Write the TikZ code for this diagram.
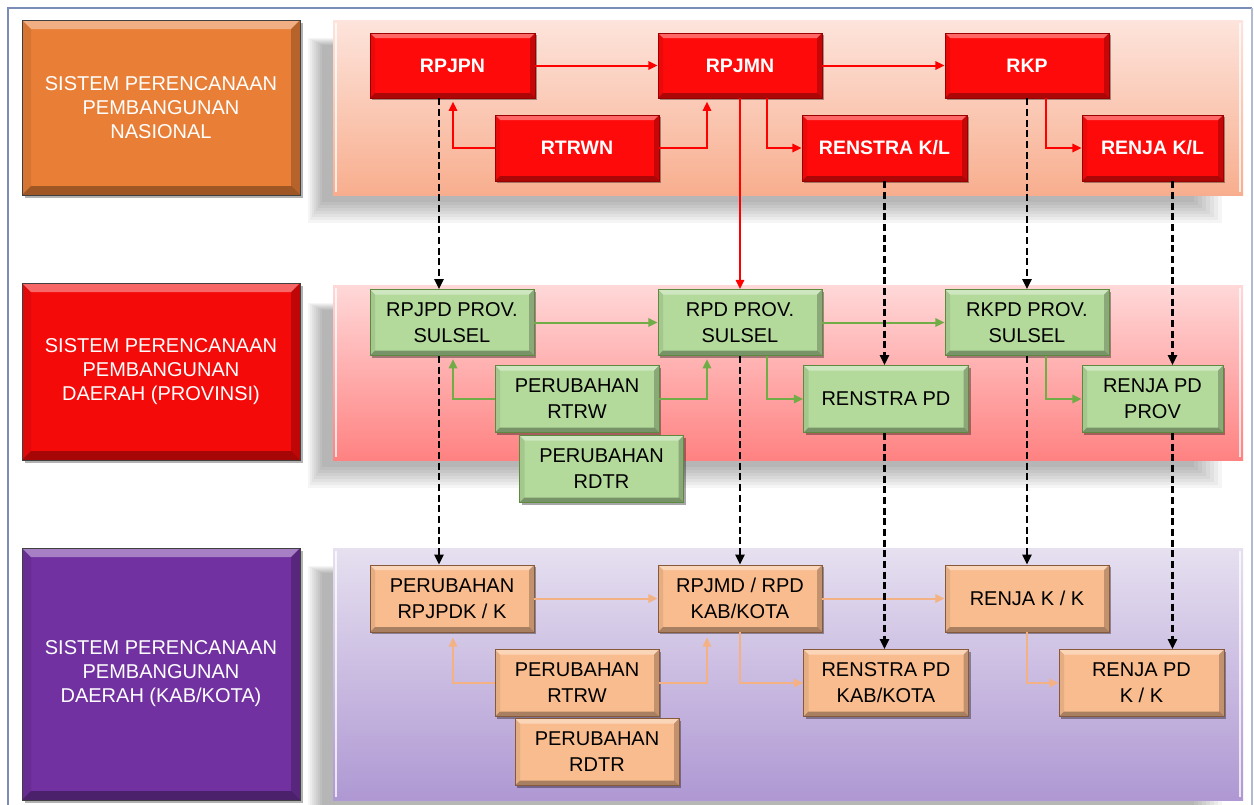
\documentclass[tikz,border=0pt]{standalone}
\usepackage{fontspec}
\setmainfont{Liberation Sans}
\usetikzlibrary{arrows.meta,shadows}
\definecolor{nred}{HTML}{FF0A0A}
\definecolor{nredD}{HTML}{9A0000}
\definecolor{ngreen}{HTML}{B3D99B}
\definecolor{ngreenD}{HTML}{5E8A3F}
\definecolor{norange}{HTML}{F9BC8E}
\definecolor{norangeD}{HTML}{86593A}
\definecolor{lorange}{HTML}{E97F37}
\definecolor{lred}{HTML}{F50A0A}
\definecolor{lpurple}{HTML}{7131A0}
\definecolor{agreen}{HTML}{70AD47}
\definecolor{aorange}{HTML}{F4B183}
\definecolor{aframe}{HTML}{7A8DB8}
\tikzset{
  bevel/.style={path picture={
    \coordinate (bA) at (path picture bounding box.north west);
    \coordinate (bB) at (path picture bounding box.north east);
    \coordinate (bC) at (path picture bounding box.south east);
    \coordinate (bD) at (path picture bounding box.south west);
    \fill[white,opacity=.38] (bA) -- (bB) -- ([shift={(-#1,-#1)}]bB) -- ([shift={(#1,-#1)}]bA) -- cycle;
    \fill[black,opacity=.08] (bA) -- ([shift={(#1,-#1)}]bA) -- ([shift={(#1,#1)}]bD) -- (bD) -- cycle;
    \fill[black,opacity=.22] (bB) -- (bC) -- ([shift={(-#1,#1)}]bC) -- ([shift={(-#1,-#1)}]bB) -- cycle;
    \fill[black,opacity=.32] (bD) -- (bC) -- ([shift={(-#1,#1)}]bC) -- ([shift={(#1,#1)}]bD) -- cycle;
  }},
  bevel/.default=3pt,
  bw/.style={minimum width={#1*0.6pt}},
  bh/.style={minimum height={#1*0.6pt}},
  nbox/.style={rectangle, inner sep=0pt, align=center, line width=.5pt,
    bevel, drop shadow={shadow xshift=1.2pt, shadow yshift=-1.4pt, opacity=.35, fill=black},
    font=\fontsize{12}{15.6}\selectfont},
  redn/.style={nbox, fill=nred, draw=nredD, text=white, font=\bfseries\fontsize{11.7}{14}\selectfont},
  greenn/.style={nbox, fill=ngreen, draw=ngreenD, text=black},
  orangen/.style={nbox, fill=norange, draw=norangeD, text=black},
  lbox/.style={rectangle, inner sep=0pt, align=center, bw=278, draw=black!75, line width=.5pt,
    bevel=5.4pt, drop shadow={shadow xshift=1.5pt, shadow yshift=-1.5pt, opacity=.3, fill=black},
    text=white, font=\fontsize{12}{14.4}\selectfont},
  redarr/.style={draw=red, line width=1.2pt, -{Triangle[length=5.5pt,width=5pt]}},
  greenarr/.style={draw=agreen, line width=1.2pt, -{Triangle[length=5.5pt,width=5pt]}},
  orangearr/.style={draw=aorange, line width=1.2pt, -{Triangle[length=5.5pt,width=5pt]}},
  dasharr/.style={draw=black, line width=1.3pt, dash pattern=on 4.2pt off 2.2pt, -{Triangle[length=6pt,width=5.5pt]}},
}
\newcommand\bandshade[2]{%
  \foreach \i in {0,...,7}{\fill[black,opacity=.04] (308+2*\i,#1+18+\i) rectangle (1222-4*\i,#2+28-3*\i);}}
\begin{document}
\begin{tikzpicture}[x=0.6pt,y=-0.6pt]
\useasboundingbox (0,0) rectangle (1254,805);
\fill[white] (0,0) rectangle (1254,805);
% frame
\draw[aframe, line width=1.2pt] (8,806) -- (8,8) -- (1252,8);
\draw[aframe!60, line width=0.8pt] (1252,8) -- (1252,806);
% band shadows
\bandshade{20}{195}
\bandshade{285}{460}
\bandshade{548}{800}
% bands
\shade[top color={rgb,255:red,253;green,228;blue,220}, bottom color={rgb,255:red,248;green,174;blue,142}] (333,20) rectangle (1243,195);
\shade[top color={rgb,255:red,255;green,216;blue,216}, bottom color={rgb,255:red,255;green,130;blue,130}] (333,285) rectangle (1243,460);
\shade[top color={rgb,255:red,230;green,224;blue,240}, bottom color={rgb,255:red,175;green,152;blue,211}] (333,548) rectangle (1243,800);
\foreach \ya/\yb in {20/195,285/460,548/800}{
  \draw[white,opacity=.75,line width=1.5pt] (336,\ya+3) -- (336,\yb-3);
  \draw[white,opacity=.75,line width=1.5pt] (1240,\ya+3) -- (1240,\yb-3);
}
% left boxes
\node[lbox, fill=lorange, bh=175] (lnas) at (161,107.5) {SISTEM PERENCANAAN\\PEMBANGUNAN\\NASIONAL};
\node[lbox, fill=lred, bh=177] (lprov) at (161,371.5) {SISTEM PERENCANAAN\\PEMBANGUNAN\\DAERAH (PROVINSI)};
\node[lbox, fill=lpurple, bh=252] (lkab) at (161,674) {SISTEM PERENCANAAN\\PEMBANGUNAN\\DAERAH (KAB/KOTA)};
% top row
\node[redn, bw=165, bh=65] (rpjpn) at (452.5,65.5) {RPJPN};
\node[redn, bw=164, bh=65] (rpjmn) at (740,65.5) {RPJMN};
\node[redn, bw=164, bh=65] (rkp) at (1027,65.5) {RKP};
\node[redn, bw=164, bh=66] (rtrwn) at (577,148) {RTRWN};
\node[redn, bw=165, bh=66] (renstrakl) at (884.5,148) {RENSTRA K/L};
\node[redn, bw=141, bh=66] (renjakl) at (1152.5,148) {RENJA K/L};
% middle row
\node[greenn, bw=164, bh=66] (rpjpd) at (452,322.5) {RPJPD PROV.\\SULSEL};
\node[greenn, bw=164, bh=66] (rpd) at (740,322.5) {RPD PROV.\\SULSEL};
\node[greenn, bw=164, bh=66] (rkpd) at (1027,322.5) {RKPD PROV.\\SULSEL};
\node[greenn, bw=164, bh=67] (prtrwa) at (577,399) {PERUBAHAN\\RTRW};
\node[greenn, bw=165, bh=67] (renstrapd) at (886,399) {RENSTRA PD};
\node[greenn, bw=141, bh=67] (renjapdprov) at (1152.5,399) {RENJA PD\\PROV};
\node[greenn, bw=164, bh=67] (prdtra) at (601.5,469) {PERUBAHAN\\RDTR};
% bottom row
\node[orangen, bw=164, bh=67] (rpjpdk) at (452,598.5) {PERUBAHAN\\RPJPDK / K};
\node[orangen, bw=164, bh=67] (rpjmd) at (740,598.5) {RPJMD / RPD\\KAB/KOTA};
\node[orangen, bw=164, bh=67] (renjakk) at (1027,598.5) {RENJA K / K};
\node[orangen, bw=164, bh=67] (prtrwb) at (577,683) {PERUBAHAN\\RTRW};
\node[orangen, bw=165, bh=67] (renstrakab) at (886,683) {RENSTRA PD\\KAB/KOTA};
\node[orangen, bw=165, bh=67] (renjapdkk) at (1141.5,683) {RENJA PD\\K / K};
\node[orangen, bw=164, bh=67] (prdtrb) at (597,752) {PERUBAHAN\\RDTR};
% helper x positions
\coordinate (xA) at (439,0);
\coordinate (xB) at (740,0);
\coordinate (xC) at (884.5,0);
\coordinate (xD) at (1027,0);
\coordinate (xE) at (1172.5,0);
\coordinate (xL) at (453,0);
\coordinate (xR) at (707,0);
\coordinate (xS) at (767,0);
\coordinate (xT) at (1046,0);
% red connectors
\draw[redarr] (rpjpn) -- (rpjmn);
\draw[redarr] (rpjmn) -- (rkp);
\draw[redarr] (rtrwn.west) -| ([yshift=-2pt]rpjpn.south -| xL);
\draw[redarr] (rtrwn.east) -| ([yshift=-2pt]rpjmn.south -| xR);
\draw[redarr] (rpjmn.south -| xS) |- (renstrakl.west);
\draw[redarr] (rkp.south -| xT) |- (renjakl.west);
\draw[redarr] (rpjmn.south) -- (rpd.north);
% green connectors
\draw[greenarr] (rpjpd) -- (rpd);
\draw[greenarr] (rpd) -- (rkpd);
\draw[greenarr] (prtrwa.west) -| ([yshift=-2pt]rpjpd.south -| xL);
\draw[greenarr] (prtrwa.east) -| ([yshift=-2pt]rpd.south -| xR);
\draw[greenarr] (rpd.south -| xS) |- (renstrapd.west);
\draw[greenarr] (rkpd.south -| xT) |- (renjapdprov.west);
% orange connectors
\draw[orangearr] (rpjpdk) -- (rpjmd);
\draw[orangearr] (rpjmd) -- (renjakk);
\draw[orangearr] (prtrwb.west) -| ([yshift=-3pt]rpjpdk.south -| xL);
\draw[orangearr] (prtrwb.east) -| ([yshift=-3pt]rpjmd.south -| xR);
\draw[orangearr] (rpjmd.south) |- (renstrakab.west);
\draw[orangearr] (renjakk.south) |- (renjapdkk.west);
% dashed connectors
\draw[dasharr] (rpjpn.south -| xA) -- (rpjpd.north -| xA);
\draw[dasharr] (rpjpd.south -| xA) -- (rpjpdk.north -| xA);
\draw[dasharr] (rpd.south -| xB) -- (rpjmd.north -| xB);
\draw[dasharr] (renstrakl.south -| xC) -- (renstrapd.north -| xC);
\draw[dasharr] (renstrapd.south -| xC) -- (renstrakab.north -| xC);
\draw[dasharr] (rkp.south -| xD) -- (rkpd.north -| xD);
\draw[dasharr] (rkpd.south -| xD) -- (renjakk.north -| xD);
\draw[dasharr] (renjakl.south -| xE) -- (renjapdprov.north -| xE);
\draw[dasharr] (renjapdprov.south -| xE) -- (renjapdkk.north -| xE);
\end{tikzpicture}
\end{document}
